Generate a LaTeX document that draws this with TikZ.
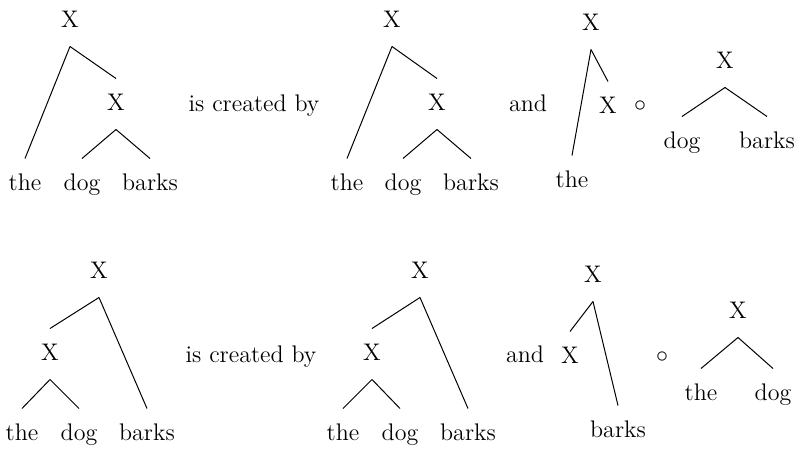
\documentclass[tikz,border=0pt]{standalone}
\newcommand\parpt[1]{([yshift=-9.75pt]#1.base)}
\newcommand\chpt[1]{([yshift=15.75pt]#1.base)}
\tikzset{
  lbl/.style={anchor=base, inner sep=0pt, font=\fontsize{12pt}{14pt}\selectfont},
  edge/.style={draw, line width=0.5pt}
}
\begin{document}
\begin{tikzpicture}[x=0.5pt,y=-0.5pt]
\useasboundingbox (0,0) rectangle (800,450);
% ---------- row 1 ----------
% tree 1
\node[lbl] (a1) at (70,27) {X};
\node[lbl] (a2) at (116,110) {X};
\node[lbl] (athe) at (25,190) {the};
\node[lbl] (adog) at (82,190) {dog};
\node[lbl] (abarks) at (150,190) {barks};
\draw[edge] \parpt{a1} -- \chpt{athe};
\draw[edge] \parpt{a1} -- \chpt{a2};
\draw[edge] \parpt{a2} -- \chpt{adog};
\draw[edge] \parpt{a2} -- \chpt{abarks};
\node[lbl] (acr) at (254,111) {is created by};
% tree 2
\node[lbl] (b1) at (392,27) {X};
\node[lbl] (b2) at (437,110) {X};
\node[lbl] (bthe) at (347,190) {the};
\node[lbl] (bdog) at (403,190) {dog};
\node[lbl] (bbarks) at (471,190) {barks};
\draw[edge] \parpt{b1} -- \chpt{bthe};
\draw[edge] \parpt{b1} -- \chpt{b2};
\draw[edge] \parpt{b2} -- \chpt{bdog};
\draw[edge] \parpt{b2} -- \chpt{bbarks};
\node[lbl] (aand) at (528,111) {and};
% tree 3
\node[lbl] (c1) at (591,30) {X};
\node[lbl] (c2) at (608,113) {X};
\node[lbl] (cthe) at (572,187) {the};
\draw[edge] \parpt{c1} -- \chpt{cthe};
\draw[edge] \parpt{c1} -- \chpt{c2};
\node[lbl] (acirc) at (640,111) {$\circ$};
% tree 4
\node[lbl] (d1) at (725,68) {X};
\node[lbl] (ddog) at (682,148) {dog};
\node[lbl] (dbarks) at (767,148) {barks};
\draw[edge] \parpt{d1} -- \chpt{ddog};
\draw[edge] \parpt{d1} -- \chpt{dbarks};
% ---------- row 2 ----------
% tree 1
\node[lbl] (e1) at (99,278) {X};
\node[lbl] (e2) at (50,360) {X};
\node[lbl] (ethe) at (22,440) {the};
\node[lbl] (edog) at (79,440) {dog};
\node[lbl] (ebarks) at (147,440) {barks};
\draw[edge] \parpt{e1} -- \chpt{e2};
\draw[edge] \parpt{e1} -- \chpt{ebarks};
\draw[edge] \parpt{e2} -- \chpt{ethe};
\draw[edge] \parpt{e2} -- \chpt{edog};
\node[lbl] (ecr) at (251,362) {is created by};
% tree 2
\node[lbl] (f1) at (420,278) {X};
\node[lbl] (f2) at (372,360) {X};
\node[lbl] (fthe) at (343,440) {the};
\node[lbl] (fdog) at (400,440) {dog};
\node[lbl] (fbarks) at (468,440) {barks};
\draw[edge] \parpt{f1} -- \chpt{f2};
\draw[edge] \parpt{f1} -- \chpt{fbarks};
\draw[edge] \parpt{f2} -- \chpt{fthe};
\draw[edge] \parpt{f2} -- \chpt{fdog};
\node[lbl] (eand) at (525,362) {and};
% tree 3
\node[lbl] (g1) at (593,282) {X};
\node[lbl] (g2) at (570,363) {X};
\node[lbl] (gbarks) at (618,437) {barks};
\draw[edge] \parpt{g1} -- \chpt{g2};
\draw[edge] \parpt{g1} -- \chpt{gbarks};
\node[lbl] (ecirc) at (662,362) {$\circ$};
% tree 4
\node[lbl] (h1) at (738,318) {X};
\node[lbl] (hthe) at (701,400) {the};
\node[lbl] (hdog) at (773,400) {dog};
\draw[edge] \parpt{h1} -- \chpt{hthe};
\draw[edge] \parpt{h1} -- \chpt{hdog};
\end{tikzpicture}
\end{document}
